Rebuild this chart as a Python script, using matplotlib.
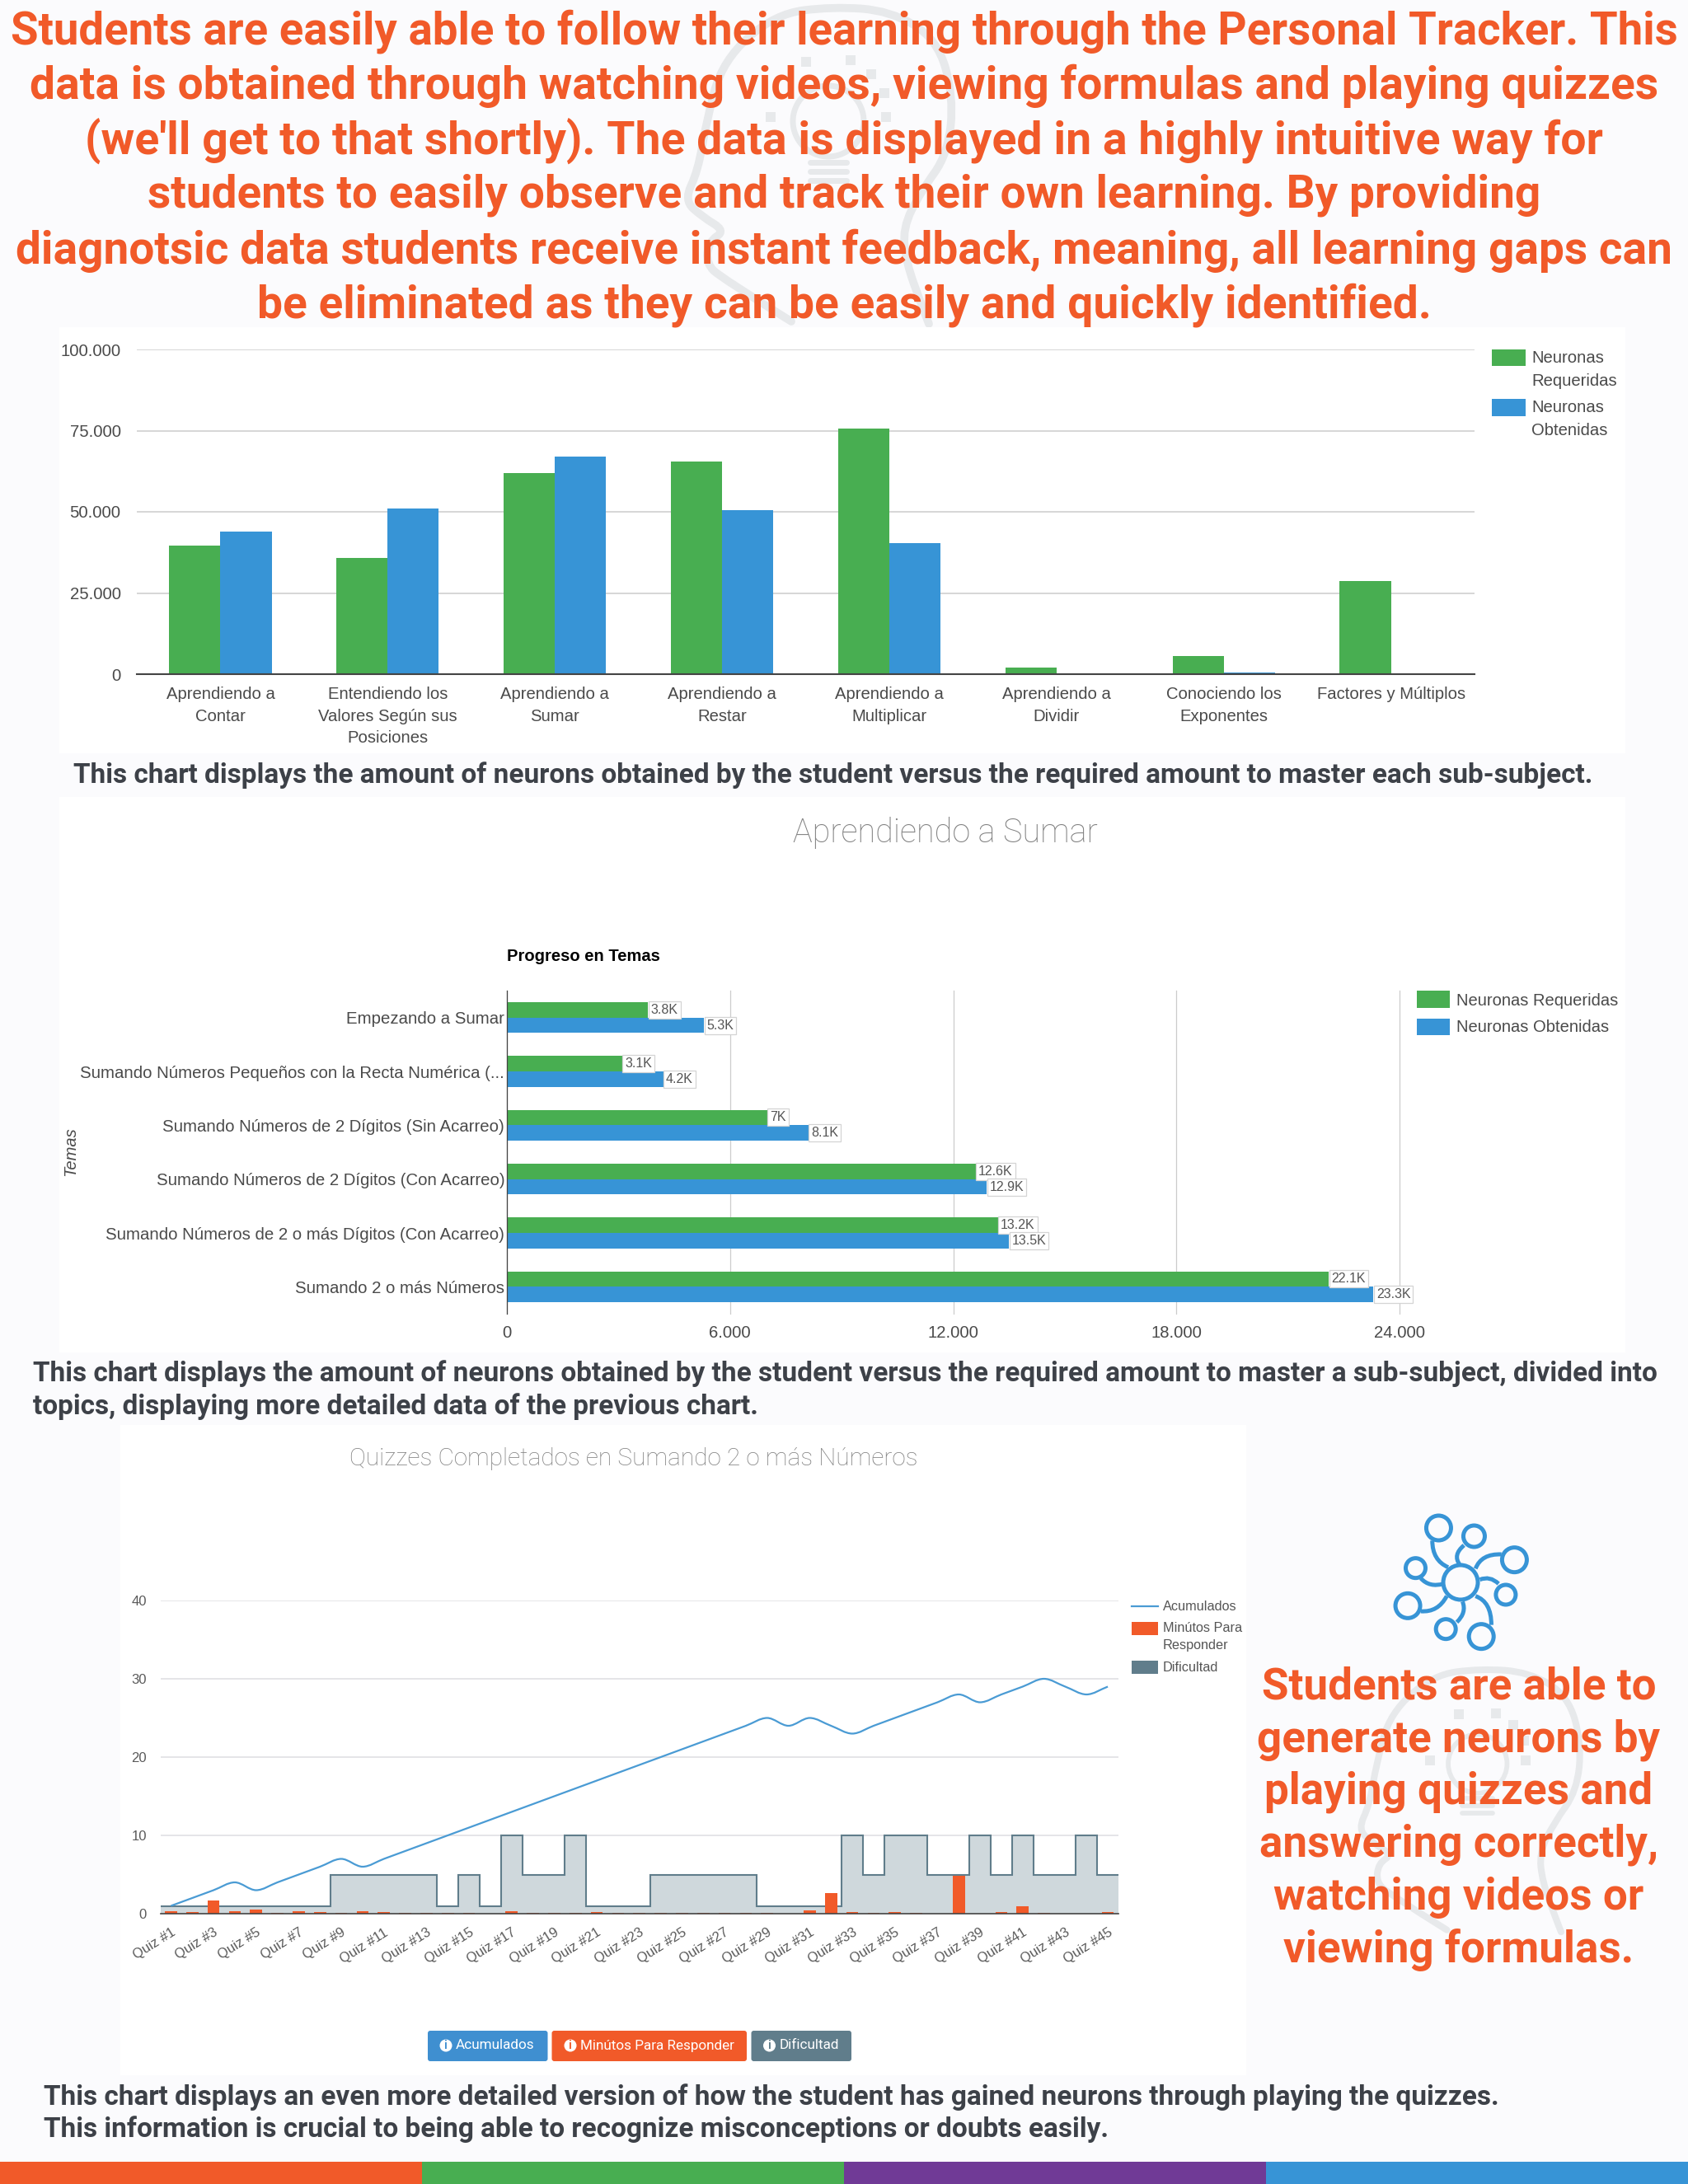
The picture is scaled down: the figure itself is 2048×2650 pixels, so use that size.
import numpy as np
import matplotlib
matplotlib.use("Agg")
import matplotlib.pyplot as plt
from matplotlib.patches import Rectangle, Circle, FancyBboxPatch, PathPatch
from matplotlib.path import Path

W, H = 2048, 2650
ORANGE = "#f15a29"
GREEN = "#48ae51"
BLUE = "#3794d6"
PURPLE = "#703a96"
SLATE = "#607d8b"
CAPTION = "#3d4148"
LABEL = "#4a4a4a"
MARK = "#e7e9eb"

HEADLINE = [
    "Students are easily able to follow their learning through the Personal Tracker. This",
    "data is obtained through watching videos, viewing formulas and playing quizzes",
    "(we'll get to that shortly). The data is displayed in a highly intuitive way for",
    "students to easily observe and track their own learning. By providing",
    "diagnotsic data students receive instant feedback, meaning, all learning gaps can",
    "be eliminated as they can be easily and quickly identified.",
]
SIDE_TEXT = [
    "Students are able to",
    "generate neurons by",
    "playing quizzes and",
    "answering correctly,",
    "watching videos or",
    "viewing formulas.",
]

# chart 1
SUBJECTS = [
    "Aprendiendo a\nContar",
    "Entendiendo los\nValores Según sus\nPosiciones",
    "Aprendiendo a\nSumar",
    "Aprendiendo a\nRestar",
    "Aprendiendo a\nMultiplicar",
    "Aprendiendo a\nDividir",
    "Conociendo los\nExponentes",
    "Factores y Múltiplos",
]
SUBJECT_REQUIRED = [39700, 35800, 61900, 65400, 75600, 2050, 5500, 28700]
SUBJECT_OBTAINED = [44000, 51100, 67100, 50500, 40300, 0, 400, 0]
SUBJECT_TICKS = [0, 25000, 50000, 75000, 100000]
SUBJECT_TICK_LABELS = ["0", "25.000", "50.000", "75.000", "100.000"]

# chart 2
TOPICS = [
    "Empezando a Sumar",
    "Sumando Números Pequeños con la Recta Numérica (...",
    "Sumando Números de 2 Dígitos (Sin Acarreo)",
    "Sumando Números de 2 Dígitos (Con Acarreo)",
    "Sumando Números de 2 o más Dígitos (Con Acarreo)",
    "Sumando 2 o más Números",
]
TOPIC_REQUIRED = [3800, 3100, 7000, 12600, 13200, 22100]
TOPIC_OBTAINED = [5300, 4200, 8100, 12900, 13500, 23300]
TOPIC_TICKS = [0, 6000, 12000, 18000, 24000]
TOPIC_TICK_LABELS = ["0", "6.000", "12.000", "18.000", "24.000"]

# chart 3
QUIZZES = [f"Quiz #{i}" for i in range(1, 46)]
ACCUMULATED = [1, 2, 3, 4, 3, 4, 5, 6, 7, 6, 7, 8, 9, 10, 11, 12, 13, 14, 15, 16, 17, 18, 19,
               20, 21, 22, 23, 24, 25, 24, 25, 24, 23, 24, 25, 26, 27, 28, 27, 28, 29, 30, 29, 28, 29]
MINUTES = [0.35, 0.25, 1.7, 0.35, 0.55, 0.15, 0.35, 0.25, 0.15, 0.35, 0.25, 0.12, 0.12, 0.1, 0.12,
           0.05, 0.35, 0.1, 0.1, 0.1, 0.25, 0.1, 0.1, 0.1, 0.1, 0.1, 0.1, 0.1, 0.12, 0, 0.42, 2.6,
           0.25, 0.12, 0.2, 0.1, 0, 4.85, 0, 0.25, 0.9, 0.15, 0.03, 0, 0.25]
DIFFICULTY = [1, 1, 1, 1, 1, 1, 1, 1, 5, 5, 5, 5, 5, 1, 5, 1, 10, 5, 5, 10, 1, 1, 1, 5, 5, 5, 5, 5,
              1, 1, 1, 1, 10, 5, 10, 10, 5, 5, 10, 5, 10, 5, 5, 10, 5]
QUIZ_TICKS = [0, 10, 20, 30, 40]

plt.rcParams["font.family"] = ["Liberation Sans", "DejaVu Sans"]

fig = plt.figure(figsize=(W / 100, H / 100), dpi=100, facecolor="#fbfbfd")


def px_axes(left, top, right, bottom, **kw):
    return fig.add_axes([left / W, 1 - bottom / H, (right - left) / W, (bottom - top) / H], **kw)


def clean(ax):
    ax.patch.set_alpha(0)
    for side in ax.spines.values():
        side.set_visible(False)
    ax.tick_params(length=0)
    ax.set_axisbelow(True)


def smooth_path(xs, ys):
    """Bezier through the points, flat at the turning points like the original line."""
    xs = np.asarray(xs, float)
    ys = np.asarray(ys, float)
    slopes = np.zeros(len(ys))
    for i in range(1, len(ys) - 1):
        before, after = ys[i] - ys[i - 1], ys[i + 1] - ys[i]
        slopes[i] = 0 if before * after <= 0 else (before + after) / 2
    slopes[0], slopes[-1] = ys[1] - ys[0], ys[-1] - ys[-2]
    verts, codes = [(xs[0], ys[0])], [Path.MOVETO]
    for i in range(len(ys) - 1):
        verts += [(xs[i] + 1 / 3, ys[i] + slopes[i] / 3),
                  (xs[i + 1] - 1 / 3, ys[i + 1] - slopes[i + 1] / 3),
                  (xs[i + 1], ys[i + 1])]
        codes += [Path.CURVE4] * 3
    return Path(verts, codes)


# page layer in pixel coordinates
page = fig.add_axes([0, 0, 1, 1])
page.set_xlim(0, W)
page.set_ylim(H, 0)
page.axis("off")

HEAD = [(180, 390), (95, 337), (77, 320), (80, 293), (100, 280), (72, 263), (50, 243), (67, 207),
        (77, 147), (97, 73), (160, 17), (230, 8), (300, 13), (357, 47), (377, 117), (370, 187),
        (337, 233), (315, 277), (320, 320), (337, 367), (347, 393)]
RAYS = [(155, 142), (198, 75), (252, 73), (277, 90), (293, 113), (295, 142)]


def draw_watermark(dx, dy, scale):
    pts = np.array(HEAD) * scale + (dx, dy)
    # quadratic segments through the midpoints keep the outline round
    mids = (pts[:-1] + pts[1:]) / 2
    verts, codes = [pts[0]], [Path.MOVETO]
    for ctrl, mid in zip(pts[1:-1], mids[1:]):
        verts += [ctrl, mid]
        codes += [Path.CURVE3, Path.CURVE3]
    verts.append(pts[-1])
    codes.append(Path.LINETO)
    page.add_patch(PathPatch(Path(verts, codes), fill=False, ec=MARK, lw=7 * scale, capstyle="round"))
    page.add_patch(Circle((225 * scale + dx, 147 * scale + dy), 43 * scale, fill=False, ec=MARK, lw=5 * scale))
    for y in (197, 208, 219):
        page.plot(np.array([203, 247]) * scale + dx, np.array([y, y]) * scale + dy, color=MARK, lw=5 * scale,
                  solid_capstyle="round")
    for x, y in RAYS:
        page.add_patch(Rectangle((x * scale + dx - 6, y * scale + dy - 6), 12, 12, color=MARK, lw=0))


draw_watermark(780, 0, 1.0)
draw_watermark(1606, 2018, 0.83)

page.add_patch(Rectangle((72, 397), 1900, 517, color="white", lw=0))
page.add_patch(Rectangle((72, 967), 1900, 674, color="white", lw=0))
page.add_patch(Rectangle((146, 1729), 1366, 789, color="white", lw=0))

for i, color in enumerate([ORANGE, GREEN, PURPLE, BLUE]):
    page.add_patch(Rectangle((i * 512, 2623), 512, 27, color=color, lw=0))

for line, y, size in zip(HEADLINE, [38, 104, 171, 237, 304, 370], [39.3, 39.7, 39.85, 39.65, 39.65, 39.7]):
    page.text(1024, y, line, color=ORANGE, fontsize=size, fontweight="bold", family="Roboto",
              ha="center", va="center")
for line, y in zip(SIDE_TEXT, [2047, 2111, 2174, 2238, 2302, 2366]):
    page.text(1770, y, line, color=ORANGE, fontsize=38.2, fontweight="bold", family="Roboto",
              ha="center", va="center")

for text, x, y in [
    ("This chart displays the amount of neurons obtained by the student versus the required amount to master each sub-subject.", 89, 941),
    ("This chart displays the amount of neurons obtained by the student versus the required amount to master a sub-subject, divided into", 40, 1667),
    ("topics, displaying more detailed data of the previous chart.", 40, 1707),
    ("This chart displays an even more detailed version of how the student has gained neurons through playing the quizzes.", 53, 2545),
    ("This information is crucial to being able to recognize misconceptions or doubts easily.", 53, 2584),
]:
    page.text(x, y, text, color=CAPTION, fontsize=24.05, fontweight="bold", family="Roboto", va="center")

# neuron icon, traced in zoom coordinates
def icon_xy(x, y):
    return 1500 + x / 2.86, 1780 + y / 3


cx, cy = icon_xy(778, 420)
page.add_patch(Circle((cx, cy), 21, fill=False, ec=BLUE, lw=3.6))
for x, y, r in [(702, 222, 15), (825, 252, 13), (965, 338, 15), (622, 368, 12),
                (595, 505, 15), (935, 465, 12), (850, 617, 15), (727, 590, 12)]:
    page.add_patch(Circle(icon_xy(x, y), r, fill=False, ec=BLUE, lw=3.6))
for a, b, c in [((680, 268), (680, 340), (735, 365)), ((790, 285), (750, 320), (775, 355)),
                ((920, 318), (850, 315), (830, 370)), ((640, 405), (670, 440), (720, 425)),
                ((640, 525), (700, 530), (730, 470)), ((910, 425), (880, 395), (845, 410)),
                ((885, 575), (885, 490), (830, 470)), ((765, 565), (800, 530), (785, 490))]:
    arc = Path([icon_xy(*a), icon_xy(*b), icon_xy(*c)], [Path.MOVETO, Path.CURVE3, Path.CURVE3])
    page.add_patch(PathPatch(arc, fill=False, ec=BLUE, lw=3.6))

# chart 1
ax1 = px_axes(166, 424, 1789, 818)
clean(ax1)
pos = np.arange(len(SUBJECTS))
ax1.bar(pos - 0.153, SUBJECT_REQUIRED, 0.306, color=GREEN)
ax1.bar(pos + 0.153, SUBJECT_OBTAINED, 0.306, color=BLUE)
ax1.set_xlim(-0.5, 7.5)
ax1.set_ylim(0, 100000)
ax1.set_yticks(SUBJECT_TICKS, SUBJECT_TICK_LABELS)
ax1.set_xticks(pos, SUBJECTS, linespacing=1.5, va="top")
ax1.tick_params(axis="y", labelsize=14.6, labelcolor=LABEL, pad=14)
ax1.tick_params(axis="x", labelsize=14.6, labelcolor=LABEL, pad=11)
ax1.grid(axis="y", color="#cfcfcf", lw=1.2)
ax1.spines["bottom"].set_visible(True)
ax1.spines["bottom"].set_color("#444444")
ax1.spines["bottom"].set_linewidth(1.5)

page.add_patch(Rectangle((1810, 424), 41, 20, color=GREEN, lw=0))
page.add_patch(Rectangle((1810, 484), 41, 21, color=BLUE, lw=0))
for text, y in [("Neuronas", 435), ("Requeridas", 462), ("Neuronas", 495), ("Obtenidas", 522)]:
    page.text(1858, y, text, color=LABEL, fontsize=14.6, va="center")

# chart 2
page.text(1147, 1011, "Aprendiendo a Sumar", color="#808080", fontsize=28.5, family="Roboto", fontweight="light",
          ha="center", va="center")
page.text(615, 1160, "Progreso en Temas", color="black", fontsize=14.5, fontweight="bold", va="center")
page.text(86, 1397, "Temas", color=LABEL, fontsize=14.5, style="italic", rotation=90, ha="center", va="center")

ax2 = px_axes(615, 1202, 1698, 1594)
clean(ax2)
pos = np.arange(len(TOPICS))
ax2.barh(pos - 0.145, TOPIC_REQUIRED, 0.285, color=GREEN)
ax2.barh(pos + 0.145, TOPIC_OBTAINED, 0.285, color=BLUE)
for row, values in [(pos - 0.145, TOPIC_REQUIRED), (pos + 0.145, TOPIC_OBTAINED)]:
    for y, v in zip(row, values):
        ax2.annotate(f"{v / 1000:g}K", (v, y), xytext=(2.5, 0), textcoords="offset points", fontsize=11.5,
                     color="#555555", va="center", ha="left",
                     bbox=dict(boxstyle="square,pad=0.18", fc="white", ec="#d4d4d4", lw=0.9))
ax2.set_xlim(0, 24000)
ax2.set_ylim(5.5, -0.5)
ax2.set_xticks(TOPIC_TICKS, TOPIC_TICK_LABELS)
ax2.set_yticks(pos, TOPICS)
ax2.tick_params(axis="y", labelsize=14.7, labelcolor=LABEL, pad=2)
ax2.tick_params(axis="x", labelsize=14.6, labelcolor=LABEL, pad=10)
ax2.grid(axis="x", color="#cccccc", lw=0.9, clip_on=False)
ax2.spines["left"].set_visible(True)
ax2.spines["left"].set_color("#444444")
ax2.spines["left"].set_linewidth(0.9)

page.add_patch(Rectangle((1719, 1202), 40, 21, color=GREEN, lw=0))
page.add_patch(Rectangle((1719, 1236), 40, 20, color=BLUE, lw=0))
page.text(1767, 1214, "Neuronas Requeridas", color=LABEL, fontsize=14.5, va="center")
page.text(1767, 1247, "Neuronas Obtenidas", color=LABEL, fontsize=14.5, va="center")

# chart 3
page.text(769, 1770, "Quizzes Completados en Sumando 2 o más Números", color="#808080", fontsize=21.4,
          family="Roboto", fontweight="light", ha="center", va="center")

ax3 = px_axes(194.5, 1942, 1357, 2322)
clean(ax3)
pos = np.arange(len(QUIZZES))
edges = np.arange(len(QUIZZES) + 1) - 0.5
ax3.stairs(DIFFICULTY, edges, fill=True, color="#cfd8dc", lw=0, zorder=1)
ax3.stairs(DIFFICULTY, edges, baseline=None, color=SLATE, lw=1.5, zorder=2)
ax3.bar(pos, MINUTES, 0.57, color=ORANGE, zorder=3)
ax3.add_patch(PathPatch(smooth_path(pos, ACCUMULATED), fill=False, ec="#4a9bd4", lw=1.6, zorder=4))
ax3.set_xlim(-0.5, 44.5)
ax3.set_ylim(0, 40)
ax3.set_yticks(QUIZ_TICKS)
ax3.set_xticks(pos[::2], QUIZZES[::2], rotation=32, ha="right", rotation_mode="anchor")
ax3.tick_params(axis="y", labelsize=12, labelcolor="#5a5a5a", pad=12)
ax3.tick_params(axis="x", labelsize=12, labelcolor="#5a5a5a", pad=11)
ax3.grid(axis="y", color="#e0e0e4", lw=1.2, zorder=0)
ax3.spines["bottom"].set_visible(True)
ax3.spines["bottom"].set_color("#444444")
ax3.spines["bottom"].set_linewidth(1.2)
ax3.spines["bottom"].set_zorder(5)

page.plot([1373, 1405], [1949, 1949], color="#4a9bd4", lw=1.6)
page.add_patch(Rectangle((1373, 1968), 32, 16, color=ORANGE, lw=0))
page.add_patch(Rectangle((1373, 2015), 32, 16, color=SLATE, lw=0))
for text, y in [("Acumulados", 1949), ("Minútos Para", 1976), ("Responder", 1997), ("Dificultad", 2023)]:
    page.text(1411, y, text, color="#555555", fontsize=11.7, va="center")

for text, left, right, color, icon_x, text_x in [
    ("Acumulados", 519, 664.5, "#3f8fd0", 541, 553),
    ("Minútos Para Responder", 669.5, 906, ORANGE, 692, 704),
    ("Dificultad", 911.5, 1033, SLATE, 933.5, 946),
]:
    page.add_patch(FancyBboxPatch((left, 2464), right - left, 37, boxstyle="round,pad=0,rounding_size=3",
                                  fc=color, ec="none"))
    page.add_patch(Circle((icon_x, 2482), 7.5, color="white", lw=0))
    page.text(icon_x, 2482, "i", color=color, fontsize=10, fontweight="bold", ha="center", va="center")
    page.text(text_x, 2482, text, color="white", fontsize=12.3, family="Roboto", va="center")

fig.savefig("out.png", dpi=100, facecolor=fig.get_facecolor())
